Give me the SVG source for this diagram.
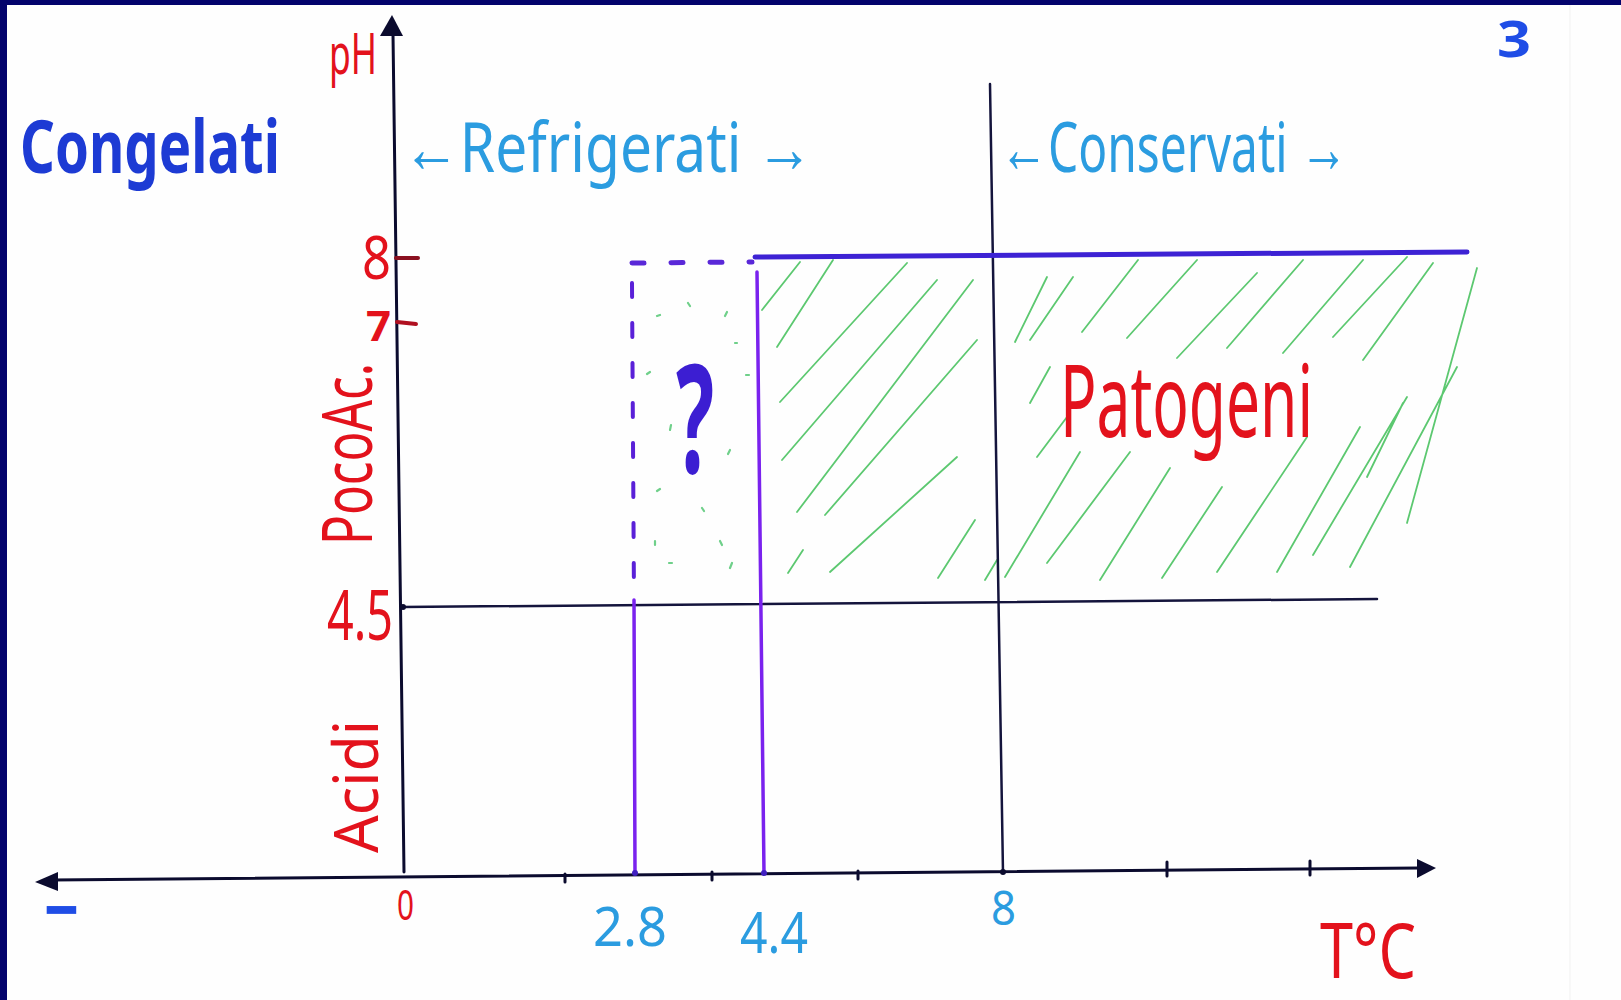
<svg xmlns="http://www.w3.org/2000/svg" width="1621" height="1000" viewBox="0 0 1621 1000">
<style>
.hand{font-family:"Noto Sans","Liberation Sans",sans-serif}
.red{fill:#e3121c}
.lblue{fill:#2b9ce0}
.axis{stroke:#0b0b2e;stroke-width:3;fill:none;stroke-linecap:round}
.thin{stroke:#14143c;stroke-width:2.5;fill:none;stroke-linecap:round}
.vio{stroke:#7a22ee;stroke-width:3.5;fill:none;stroke-linecap:round}
.hatch{stroke:#5cc870;stroke-width:1.8;fill:none;stroke-linecap:round}
.dot{stroke:#6fd08a;stroke-width:2.2;fill:none;stroke-linecap:round}
</style>
<rect x="0" y="0" width="1621" height="1000" fill="#03036c"/>
<rect x="7" y="5" width="1614" height="995" fill="#fefefe"/>
<line x1="1570" y1="5" x2="1570" y2="1000" stroke="#f1f1f1" stroke-width="1"/>

<g id="hatching">
<path class="hatch" d="M762,310 L800,262 M777,347 L833,260 M780,402 L907,263 M782,460 L937,280 M797,512 L973,280 M825,515 L977,340 M788,573 L803,550 M830,572 L957,457 M938,578 L975,520 M985,580 L997,560"/>
<path class="hatch" d="M1015,342 L1047,277 M1030,403 L1050,367 M1037,457 L1067,417 M1005,577 L1080,452 M1047,563 L1130,452 M1100,580 L1170,468 M1162,578 L1222,487 M1217,572 L1307,437 M1277,572 L1360,427 M1313,555 L1407,397 M1350,567 L1457,367 M1407,523 L1477,268 M1367,477 L1403,403"/>
<path class="hatch" d="M1030,340 L1073,277 M1082,332 L1138,260 M1127,338 L1197,260 M1177,358 L1257,273 M1227,348 L1303,260 M1283,353 L1363,260 M1333,337 L1407,257 M1363,360 L1433,263"/>
<path class="dot" d="M657,316 l3,-1 M688,303 l2,3 M727,312 l-2,4 M735,343 l2,0 M647,374 l3,-2 M746,375 l3,0 M671,425 l-1,5 M730,450 l-2,4 M657,491 l3,-2 M702,508 l2,3 M720,541 l2,4 M655,541 l0,4 M669,563 l3,0 M732,563 l-2,5"/>
</g>

<g id="connectors">
<line class="axis" x1="393" y1="34" x2="404" y2="872"/>
<polygon points="380,36 403,36 392,15" fill="#0b0b2e"/>
<line class="axis" x1="52" y1="880" x2="1420" y2="868"/>
<polygon points="35,882 58,872 58,891" fill="#0b0b2e"/>
<polygon points="1436,868 1417,859 1417,878" fill="#0b0b2e"/>
<path class="axis" d="M565,874 L565,882 M712,872 L712,880 M858,871 L858,879 M1167,862 L1167,876 M1310,861 L1310,875"/>
<path d="M396,258 L418,258" stroke="#8a1020" stroke-width="4" stroke-linecap="round"/>
<path d="M397,322 L416,324" stroke="#b01020" stroke-width="4" stroke-linecap="round"/>
<line class="thin" x1="990" y1="84" x2="1003" y2="873"/>
<line class="thin" x1="403" y1="607" x2="1377" y2="599" stroke="#0b0b22"/>
<line x1="755" y1="257" x2="1467" y2="252" stroke="#3d22d4" stroke-width="5" stroke-linecap="round"/>
<line x1="632" y1="263" x2="752" y2="262" stroke="#5a28d8" stroke-width="5" stroke-linecap="round" stroke-dasharray="12,27"/>
<line x1="632" y1="283" x2="634" y2="600" stroke="#5a20d8" stroke-width="4" stroke-linecap="round" stroke-dasharray="14,26"/>
<line class="vio" x1="634" y1="600" x2="635" y2="873"/>
<line class="vio" x1="757" y1="272" x2="764" y2="873"/>
<circle cx="635" cy="873" r="3" fill="#4020c0"/>
<circle cx="764" cy="873" r="3" fill="#4020c0"/>
<circle cx="1003" cy="872" r="3" fill="#0b0b2e"/>
<circle cx="403" cy="607" r="3" fill="#0b0b2e"/>
</g>

<g id="label-ph"><text class="hand red" x="329" y="74" font-size="56" textLength="48" lengthAdjust="spacingAndGlyphs">pH</text></g>
<g id="label-congelati"><text class="hand" x="20" y="173" font-size="74" font-weight="bold" fill="#1d3bd4" textLength="260" lengthAdjust="spacingAndGlyphs">Congelati</text></g>
<g id="label-refrigerati"><text class="hand lblue" x="403" y="172" font-size="70" textLength="410" lengthAdjust="spacingAndGlyphs">←Refrigerati →</text></g>
<g id="label-conservati"><text class="hand lblue" x="1000" y="172" font-size="70" textLength="348" lengthAdjust="spacingAndGlyphs">←Conservati →</text></g>
<g id="label-page"><text class="hand" x="1497" y="57" font-size="50" font-weight="bold" fill="#1f4de6" textLength="34" lengthAdjust="spacingAndGlyphs">3</text></g>

<g id="label-y8"><text class="hand red" x="362" y="279" font-size="60" textLength="29" lengthAdjust="spacingAndGlyphs">8</text></g>
<g id="label-y7"><text class="hand red" x="366" y="341" font-size="42" font-weight="bold" textLength="25" lengthAdjust="spacingAndGlyphs">7</text></g>
<g id="label-pocoac"><text class="hand red" transform="translate(372,545) rotate(-90)" font-size="70" textLength="182" lengthAdjust="spacingAndGlyphs">PocoAc.</text></g>
<g id="label-y45"><text class="hand red" x="327" y="640" font-size="70" textLength="66" lengthAdjust="spacingAndGlyphs">4.5</text></g>
<g id="label-acidi"><text class="hand red" transform="translate(378,853) rotate(-90)" font-size="62" textLength="133" lengthAdjust="spacingAndGlyphs">Acidi</text></g>

<g id="label-minus"><text class="hand" x="46" y="929" font-size="54" fill="#1f4de6" stroke="#1f4de6" stroke-width="4" textLength="31" lengthAdjust="spacingAndGlyphs">−</text></g>
<g id="label-x0"><text class="hand red" x="397" y="920" font-size="42" textLength="17" lengthAdjust="spacingAndGlyphs">0</text></g>
<g id="label-x28"><text class="hand lblue" x="593" y="946" font-size="54" textLength="74" lengthAdjust="spacingAndGlyphs">2.8</text></g>
<g id="label-x44"><text class="hand lblue" x="740" y="953" font-size="56" textLength="68" lengthAdjust="spacingAndGlyphs">4.4</text></g>
<g id="label-x8"><text class="hand lblue" x="991" y="925" font-size="48" textLength="25" lengthAdjust="spacingAndGlyphs">8</text></g>
<g id="label-tc"><text class="hand red" x="1320" y="978" font-size="76" textLength="96" lengthAdjust="spacingAndGlyphs">T°C</text></g>

<g id="label-patogeni"><text class="hand red" x="1060" y="437" font-size="100" textLength="253" lengthAdjust="spacingAndGlyphs">Patogeni</text></g>
<g id="label-question"><text class="hand" x="676" y="473" font-size="150" font-weight="bold" fill="#3c1ed2" textLength="38" lengthAdjust="spacingAndGlyphs">?</text></g>
</svg>
